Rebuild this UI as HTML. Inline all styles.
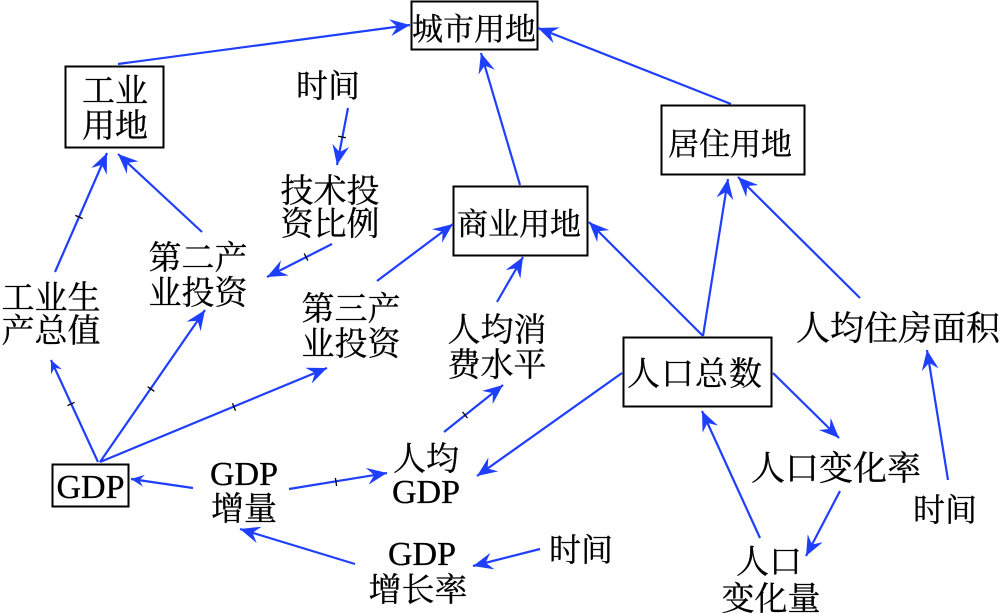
<!DOCTYPE html>
<html><head><meta charset="utf-8">
<style>
html,body{margin:0;padding:0;background:#fff;}
svg{display:block;}
text{font-family:"Liberation Serif","Noto Serif CJK SC",serif;fill:#000;stroke:#000;stroke-width:0.3;}
</style></head>
<body>
<svg width="1000" height="613" viewBox="0 0 1000 613" xmlns="http://www.w3.org/2000/svg">
<defs>
<marker id="a" markerUnits="userSpaceOnUse" viewBox="-22 -11 24 22" markerWidth="24" markerHeight="22" refX="0" refY="0" orient="auto">
<path d="M0,0 L-20,-8.5 L-13,0 L-20,8.5 Z" fill="#1f3fff"/>
</marker>
<marker id="s" markerUnits="userSpaceOnUse" viewBox="-22 -11 24 22" markerWidth="24" markerHeight="22" refX="0" refY="0" orient="auto">
<path d="M0,0 L-13,-6 L-8.5,0 L-13,6 Z" fill="#1f3fff"/>
</marker>
</defs>

<g fill="none" stroke="#000" stroke-width="2">
<rect x="411.5" y="1.5" width="126" height="48"/>
<rect x="65.5" y="66.5" width="98" height="81"/>
<rect x="661.5" y="105.5" width="143" height="69"/>
<rect x="453.5" y="186.5" width="134" height="69"/>
<rect x="623.5" y="337.5" width="148" height="69"/>
<rect x="52.5" y="464.5" width="76" height="42"/>
</g>

<g stroke="#1f3fff" stroke-width="2.2" fill="none">
<line x1="118" y1="64" x2="410" y2="25" marker-end="url(#a)"/>
<line x1="55" y1="272" x2="107" y2="153" marker-end="url(#a)"/>
<line x1="202" y1="232" x2="118" y2="154" marker-end="url(#a)"/>
<line x1="348" y1="108" x2="337" y2="165" marker-end="url(#a)"/>
<line x1="332" y1="244" x2="267" y2="277" marker-end="url(#a)"/>
<line x1="377" y1="281" x2="453" y2="224" marker-end="url(#a)"/>
<line x1="520" y1="185" x2="481" y2="53" marker-end="url(#a)"/>
<line x1="731" y1="104" x2="538" y2="28" marker-end="url(#a)"/>
<line x1="703" y1="336" x2="589" y2="222" marker-end="url(#a)"/>
<line x1="703" y1="336" x2="728" y2="179" marker-end="url(#a)"/>
<line x1="860" y1="298" x2="738" y2="177" marker-end="url(#a)"/>
<line x1="497" y1="302" x2="523" y2="257" marker-end="url(#a)"/>
<line x1="98" y1="462" x2="51" y2="360" marker-end="url(#s)"/>
<line x1="100" y1="462" x2="205" y2="310" marker-end="url(#a)"/>
<line x1="100" y1="462" x2="327" y2="368" marker-end="url(#a)"/>
<line x1="193" y1="488" x2="131" y2="479" marker-end="url(#s)"/>
<line x1="289" y1="489" x2="387" y2="473" marker-end="url(#a)"/>
<line x1="444" y1="432" x2="503" y2="385" marker-end="url(#a)"/>
<line x1="622" y1="373" x2="477" y2="476" marker-end="url(#a)"/>
<line x1="355" y1="564" x2="240" y2="529" marker-end="url(#a)"/>
<line x1="540" y1="549" x2="473" y2="566" marker-end="url(#a)"/>
<line x1="773" y1="373" x2="839" y2="438" marker-end="url(#a)"/>
<line x1="840" y1="491" x2="806" y2="556" marker-end="url(#a)"/>
<line x1="760" y1="538" x2="702" y2="411" marker-end="url(#a)"/>
<line x1="948" y1="480" x2="927" y2="350" marker-end="url(#a)"/>
</g>

<g stroke="#000" stroke-width="1.3">
<line x1="75.3" y1="215.4" x2="82.7" y2="218.6"/>
<line x1="338.1" y1="136.2" x2="345.9" y2="137.8"/>
<line x1="304.2" y1="253.4" x2="307.8" y2="260.6"/>
<line x1="67.4" y1="405.7" x2="74.6" y2="402.3"/>
<line x1="147.7" y1="386.7" x2="154.3" y2="391.3"/>
<line x1="232.5" y1="403.3" x2="235.5" y2="410.7"/>
<line x1="335.4" y1="478" x2="336.6" y2="486"/>
<line x1="462.5" y1="411.9" x2="467.5" y2="418.1"/>
</g>

<g text-anchor="middle" font-size="33">
<text x="474" y="40" font-size="31">城市用地</text>
<text x="115" y="102">工业</text>
<text x="115" y="137">用地</text>
<text x="730" y="155" font-size="31">居住用地</text>
<text x="519" y="235" font-size="31">商业用地</text>
<text x="695" y="385" font-size="33" letter-spacing="1">人口总数</text>
<text x="90.5" y="498" font-size="34">GDP</text>

<text x="328" y="97" font-size="32">时间</text>
<text x="330" y="202">技术投</text>
<text x="330" y="235">资比例</text>
<text x="198" y="269">第二产</text>
<text x="198" y="304">业投资</text>
<text x="51" y="309">工业生</text>
<text x="51" y="342">产总值</text>
<text x="351" y="320">第三产</text>
<text x="351" y="355">业投资</text>
<text x="497" y="341">人均消</text>
<text x="497" y="376">费水平</text>
<text x="426" y="470">人均</text>
<text x="426" y="503" font-size="34">GDP</text>
<text x="244" y="485" font-size="34">GDP</text>
<text x="244" y="520">增量</text>
<text x="422" y="565" font-size="34">GDP</text>
<text x="418" y="601">增长率</text>
<text x="581" y="561" font-size="32">时间</text>
<text x="898" y="340" font-size="34">人均住房面积</text>
<text x="836" y="480" font-size="34">人口变化率</text>
<text x="945" y="521" font-size="32">时间</text>
<text x="769" y="573">人口</text>
<text x="771" y="610">变化量</text>
</g>
</svg>
</body></html>
